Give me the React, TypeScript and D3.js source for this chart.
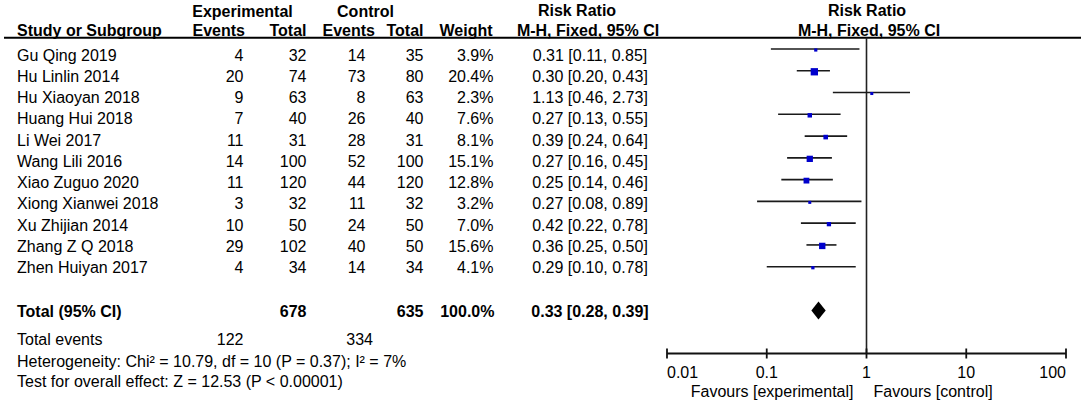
import React from 'react';
import * as d3 from 'd3';

const studies = [
  'Gu Qing 2019', 'Hu Linlin 2014', 'Hu Xiaoyan 2018', 'Huang Hui 2018', 'Li Wei 2017',
  'Wang Lili 2016', 'Xiao Zuguo 2020', 'Xiong Xianwei 2018', 'Xu Zhijian 2014',
  'Zhang Z Q 2018', 'Zhen Huiyan 2017',
];
const expEvents = [4, 20, 9, 7, 11, 14, 11, 3, 10, 29, 4];
const expTotal = [32, 74, 63, 40, 31, 100, 120, 32, 50, 102, 34];
const ctrlEvents = [14, 73, 8, 26, 28, 52, 44, 11, 24, 40, 14];
const ctrlTotal = [35, 80, 63, 40, 31, 100, 120, 32, 50, 50, 34];
const weights = [3.9, 20.4, 2.3, 7.6, 8.1, 15.1, 12.8, 3.2, 7.0, 15.6, 4.1];
const rr = [0.31, 0.30, 1.13, 0.27, 0.39, 0.27, 0.25, 0.27, 0.42, 0.36, 0.29];
const lo = [0.11, 0.20, 0.46, 0.13, 0.24, 0.16, 0.14, 0.08, 0.22, 0.25, 0.10];
const hi = [0.85, 0.43, 2.73, 0.55, 0.64, 0.45, 0.46, 0.89, 0.78, 0.50, 0.78];

const totalExp = 678;
const totalCtrl = 635;
const totalWeight = 100.0;
const totalRR = [0.33, 0.28, 0.39];
const totalEventsExp = 122;
const totalEventsCtrl = 334;
const heterogeneityText = 'Heterogeneity: Chi² = 10.79, df = 10 (P = 0.37); I² = 7%';
const overallText = 'Test for overall effect: Z = 12.53 (P < 0.00001)';

const axisTicks = [0.01, 0.1, 1, 10, 100];
const tickLabels = ['0.01', '0.1', '1', '10', '100'];

const FONT = '"Liberation Sans", Arial, Helvetica, sans-serif';

export default function App() {
  const W = 1084;
  const H = 403;
  const x = d3.scaleLog().domain([0.01, 100]).range([667, 1066]);
  const lineY = d3.scaleLinear().domain([0, 10]).range([49, 266.7]);
  const textY = d3.scaleLinear().domain([0, 10]).range([60.5, 273.3]);
  const sq = d3.scaleSqrt().domain([0, 20.4]).range([0, 7.3]);
  const axisY = 353.5;
  const diamondY = 310.5;
  const fmt = (v: number) => v.toFixed(2);
  const rrText = (a: number, b: number, c: number) => `${fmt(a)} [${fmt(b)}, ${fmt(c)}]`;

  const col = {
    expE: 243.5,
    expT: 306.5,
    ctlE: 365.5,
    ctlT: 423.5,
    wt: 493.5,
    rr: 590,
  };

  const common = { fontFamily: FONT, fontSize: 16, fill: '#000' } as const;
  const bold = { ...common, fontWeight: 700 } as const;

  return (
    <svg width={W} height={H} style={{ position: 'absolute', left: 0, top: 0, background: '#fff' }}>
      {/* header */}
      <text x={242.5} y={16.5} textAnchor="middle" {...bold}>Experimental</text>
      <text x={365.5} y={16.5} textAnchor="middle" {...bold}>Control</text>
      <text x={577} y={16} textAnchor="middle" {...bold}>Risk Ratio</text>
      <text x={867} y={16} textAnchor="middle" {...bold}>Risk Ratio</text>

      <text x={17} y={36} {...bold}>Study or Subgroup</text>
      <text x={245} y={36} textAnchor="end" {...bold}>Events</text>
      <text x={306.5} y={36} textAnchor="end" {...bold}>Total</text>
      <text x={375} y={36} textAnchor="end" {...bold}>Events</text>
      <text x={423.5} y={36} textAnchor="end" {...bold}>Total</text>
      <text x={492.5} y={36} textAnchor="end" {...bold}>Weight</text>
      <text x={588} y={36} textAnchor="middle" {...bold}>M-H, Fixed, 95% CI</text>
      <text x={869} y={36} textAnchor="middle" {...bold}>M-H, Fixed, 95% CI</text>

      <line x1={4} x2={1081} y1={37.8} y2={37.8} stroke="#000" strokeWidth={2} />

      {/* rows */}
      {studies.map((s, i) => {
        const ty = textY(i);
        return (
          <g key={s}>
            <text x={17} y={ty} {...common}>{s}</text>
            <text x={col.expE} y={ty} textAnchor="end" {...common}>{expEvents[i]}</text>
            <text x={col.expT} y={ty} textAnchor="end" {...common}>{expTotal[i]}</text>
            <text x={col.ctlE} y={ty} textAnchor="end" {...common}>{ctrlEvents[i]}</text>
            <text x={col.ctlT} y={ty} textAnchor="end" {...common}>{ctrlTotal[i]}</text>
            <text x={col.wt} y={ty} textAnchor="end" {...common}>{weights[i].toFixed(1)}%</text>
            <text x={col.rr} y={ty} textAnchor="middle" {...common}>{rrText(rr[i], lo[i], hi[i])}</text>
          </g>
        );
      })}

      {/* total row */}
      <text x={17} y={316.5} {...bold}>Total (95% CI)</text>
      <text x={col.expT} y={316.5} textAnchor="end" {...bold}>{totalExp}</text>
      <text x={col.ctlT} y={316.5} textAnchor="end" {...bold}>{totalCtrl}</text>
      <text x={col.wt + 1} y={316.5} textAnchor="end" {...bold}>{totalWeight.toFixed(1)}%</text>
      <text x={col.rr} y={316.5} textAnchor="middle" {...bold}>{rrText(totalRR[0], totalRR[1], totalRR[2])}</text>

      <text x={17} y={344.5} {...common}>Total events</text>
      <text x={col.expE} y={344.5} textAnchor="end" {...common}>{totalEventsExp}</text>
      <text x={373} y={344.5} textAnchor="end" {...common}>{totalEventsCtrl}</text>
      <text x={17} y={366.5} {...common}>{heterogeneityText}</text>
      <text x={17} y={386.5} {...common}>{overallText}</text>

      {/* plot */}
      <line x1={x(1)} x2={x(1)} y1={37.8} y2={axisY} stroke="#222" strokeWidth={1.6} />
      {studies.map((s, i) => {
        const y = lineY(i);
        const size = Math.max(3, sq(weights[i]));
        return (
          <g key={'p' + s}>
            <line x1={x(lo[i])} x2={x(hi[i])} y1={y} y2={y} stroke="#1a1a1a" strokeWidth={1.6} />
            <rect x={x(rr[i]) - size / 2} y={y + 1 - size / 2} width={size} height={size} fill="#0000CC" />
          </g>
        );
      })}
      <path
        d={`M${x(totalRR[1])},${diamondY} L${x(totalRR[0])},${diamondY - 9} L${x(totalRR[2])},${diamondY} L${x(totalRR[0])},${diamondY + 9} Z`}
        fill="#000"
      />

      {/* axis */}
      <line x1={x(0.01)} x2={x(100)} y1={axisY} y2={axisY} stroke="#111" strokeWidth={1.8} />
      {axisTicks.map((t, i) => (
        <g key={'t' + t}>
          <line x1={x(t)} x2={x(t)} y1={axisY - 5} y2={axisY + 5} stroke="#111" strokeWidth={1.8} />
          <text
            x={x(t)}
            y={377.5}
            textAnchor={i === 0 ? 'start' : i === axisTicks.length - 1 ? 'end' : 'middle'}
            {...common}
          >
            {tickLabels[i]}
          </text>
        </g>
      ))}
      <text x={x(1) - 13} y={396.5} textAnchor="end" {...common}>Favours [experimental]</text>
      <text x={x(1) + 7} y={396.5} textAnchor="start" {...common}>Favours [control]</text>
    </svg>
  );
}
